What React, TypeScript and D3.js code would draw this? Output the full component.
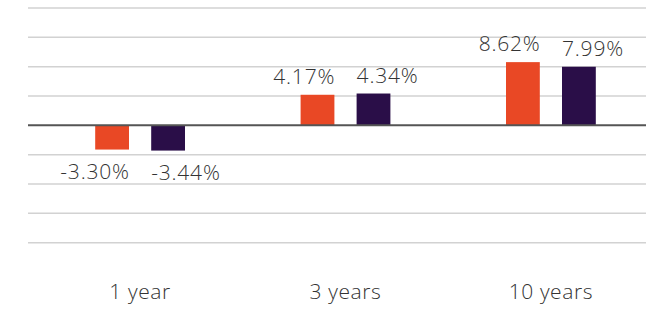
import React from "react";
import * as d3 from "d3";

const categories = ["1 year", "3 years", "10 years"];
const seriesNames = ["Fund", "Benchmark"];
const seriesA = [-3.3, 4.17, 8.62];
const seriesB = [-3.44, 4.34, 7.99];
const labelsA = ["-3.30%", "4.17%", "8.62%"];
const labelsB = ["-3.44%", "4.34%", "7.99%"];
const yTicks = [-16, -12, -8, -4, 0, 4, 8, 12, 16];
const colors = ["#E94825", "#2A0E48"];

const W = 646;
const H = 310;

export default function App() {
  const x = d3.scalePoint<string>().domain(categories).range([140.1, 550.9]);
  const y = d3.scaleLinear().domain([-16, 16]).range([242.7, 8]);
  const barW = 33.8;
  const gap = 22.2;
  const series = [seriesA, seriesB];
  const labels = [labelsA, labelsB];
  const font = "'Open Sans', sans-serif";
  return (
    <svg width={W} height={H} style={{ position: "absolute", left: 0, top: 0, background: "#fff" }}>
      {yTicks.filter((t) => t !== 0).map((t) => (
        <line key={t} x1={28} x2={W} y1={y(t)} y2={y(t)} stroke="#d2d2d2" strokeWidth={1.5} />
      ))}
      {series.map((vals, si) =>
        vals.map((v, ci) => {
          const cx = x(categories[ci]) as number;
          const bx = si === 0 ? cx - gap / 2 - barW : cx + gap / 2;
          const y0 = y(0);
          const yv = y(v);
          const top = Math.min(y0, yv);
          const h = Math.abs(yv - y0);
          const ly = v >= 0 ? yv - 11 : yv + 29;
          return (
            <g key={`${si}-${ci}`}>
              <rect x={bx} y={top} width={barW} height={h} fill={colors[si]} />
              <text
                x={si === 0 ? bx + barW + 0.8 : bx}
                y={ly}
                textAnchor={si === 0 ? "end" : "start"}
                fontFamily={font}
                fontSize={21}
                fontWeight={300}
                letterSpacing={0.8}
                fill="#333"
              >
                {labels[si][ci]}
              </text>
            </g>
          );
        })
      )}
      <line x1={28} x2={W} y1={y(0)} y2={y(0)} stroke="#555" strokeWidth={2} />
      {categories.map((c) => (
        <text
          key={c}
          x={x(c) as number}
          y={299}
          textAnchor="middle"
          fontFamily={font}
          fontSize={21}
          fontWeight={300}
          letterSpacing={0.6}
          fill="#333"
        >
          {c}
        </text>
      ))}
    </svg>
  );
}
